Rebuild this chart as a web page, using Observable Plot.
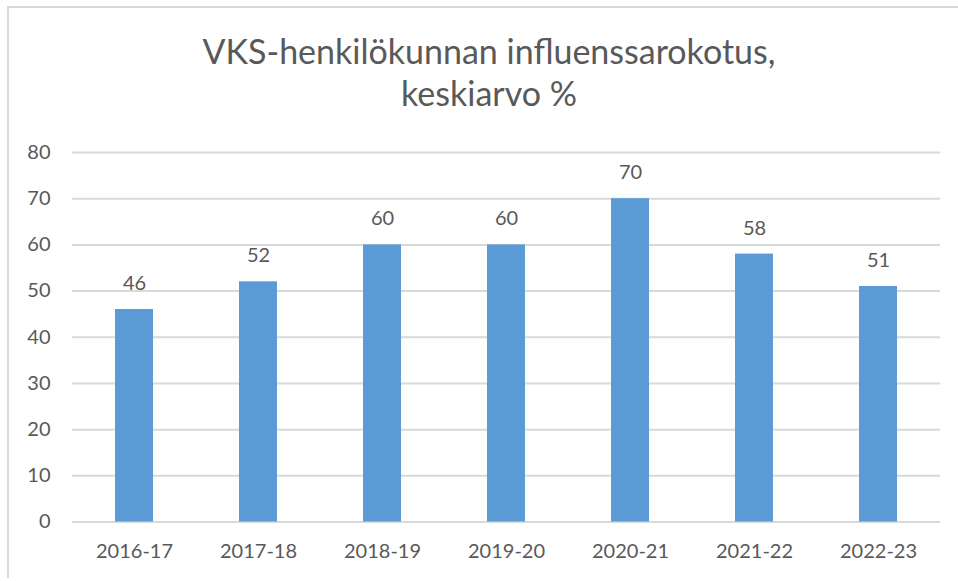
<!DOCTYPE html>
<html>
<head>
<meta charset="utf-8">
<script src="https://cdn.jsdelivr.net/npm/d3@7"></script>
<script src="https://cdn.jsdelivr.net/npm/@observablehq/plot@0.6"></script>
<style>
  html, body { margin: 0; padding: 0; background: #fff; }
  #wrap { position: relative; width: 958px; height: 581px; overflow: hidden; font-family: Lato, "Open Sans", sans-serif; }
  #frame { position: absolute; left: 7px; top: 6px; width: 1000px; height: 570px; border-left: 2px solid #d9d9d9; border-top: 2px solid #d9d9d9; }
  #title { position: absolute; left: 0; width: 978px; top: 30px; text-align: center; color: #595959; font-size: 34px; line-height: 42px; font-weight: 400; }
  #chart { position: absolute; left: 0; top: 0; }
</style>
</head>
<body>
<div id="wrap">
  <div id="frame"></div>
  <div id="chart"></div>
  <div id="title">VKS-henkilökunnan influenssarokotus,<br>keskiarvo %</div>
</div>
<script>
const seasons = ["2016-17", "2017-18", "2018-19", "2019-20", "2020-21", "2021-22", "2022-23"];
const values = [46, 52, 60, 60, 70, 58, 51];
const yTicks = [0, 10, 20, 30, 40, 50, 60, 70, 80];

const data = seasons.map((s, i) => ({season: s, value: values[i]}));

const chart = Plot.plot({
  width: 958,
  height: 581,
  marginTop: 152,
  marginBottom: 59.5,
  marginLeft: 72,
  marginRight: 18,
  style: {fontFamily: "Lato, 'Open Sans', sans-serif", color: "#595959", background: "transparent", fontSize: "20px"},
  x: {domain: seasons, paddingInner: 0.69, paddingOuter: 0.345, label: null},
  y: {domain: [0, 80], label: null},
  marks: [
    Plot.ruleY(yTicks, {stroke: "#d9d9d9", strokeWidth: 2}),
    Plot.barY(data, {x: "season", y: "value", fill: "#5b9bd5"}),
    Plot.text(data, {x: "season", y: "value", text: d => String(d.value), dy: -26, fill: "#595959", fontSize: 20}),
    Plot.axisY({ticks: yTicks, tickSize: 0, tickPadding: 22, fontSize: 20, label: null, fill: "#595959"}),
    Plot.axisX({tickSize: 0, tickPadding: 22, fontSize: 20, label: null, fill: "#595959"})
  ]
});
document.getElementById("chart").appendChild(chart);
</script>
</body>
</html>
